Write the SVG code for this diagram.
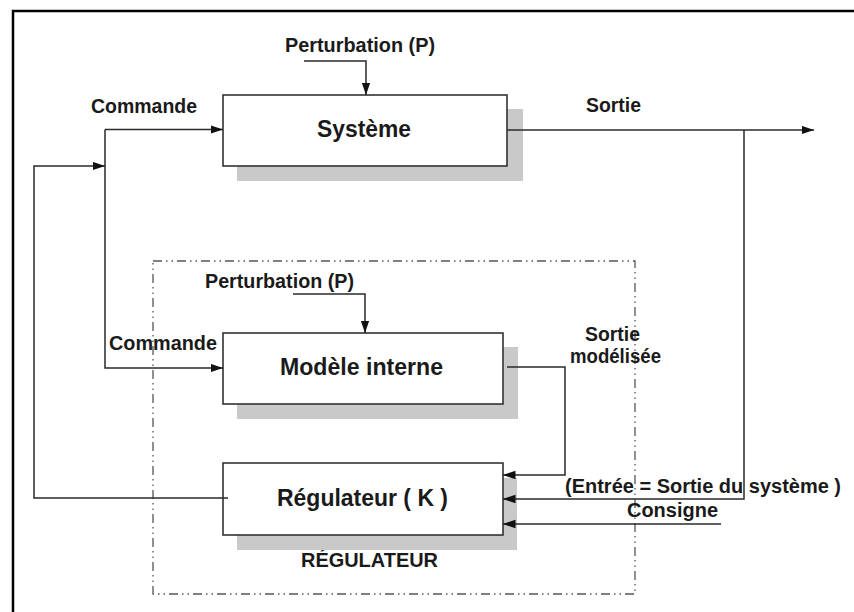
<svg xmlns="http://www.w3.org/2000/svg" width="854" height="612" viewBox="0 0 854 612">
  <style>
    .box { fill: #ffffff; stroke: #333333; stroke-width: 1.6; }
    .shadow { fill: #c9c9c9; stroke: none; }
    .wire { fill: none; stroke: #2a2a2a; stroke-width: 1.5; }
    .lbl { font-family: "Liberation Sans", Arial, sans-serif; font-weight: bold; font-size: 19.5px; fill: #1a1a1a; }
    .big { font-family: "Liberation Sans", Arial, sans-serif; font-weight: bold; font-size: 23px; fill: #1a1a1a; }
    .zone { fill: none; stroke: #555555; stroke-width: 1.3; stroke-dasharray: 9 4 1.5 4 1.5 4; }
  </style>
  <defs>
    <marker id="arrow" markerUnits="userSpaceOnUse" markerWidth="13" markerHeight="9" refX="12.5" refY="4.25" orient="auto">
      <path d="M0,0 L12.5,4.25 L0,8.5 Z" fill="#111111"/>
    </marker>
  </defs>

  <rect width="854" height="612" fill="#ffffff"/>

  <!-- page frame (top and left edges) -->
  <path d="M13,612 V11 H854" fill="none" stroke="#000000" stroke-width="2.5"/>

  <!-- controller boundary -->
  <g id="zone-regulateur">
    <rect class="zone" x="153" y="261" width="482" height="333"/>
    <text class="lbl" x="301" y="567" textLength="137" lengthAdjust="spacingAndGlyphs">RÉGULATEUR</text>
  </g>

  <!-- plant -->
  <g id="systeme">
    <rect class="shadow" x="237" y="109" width="286" height="72"/>
    <rect class="box" x="223" y="95" width="284" height="71"/>
    <text class="big" x="317" y="137" textLength="94" lengthAdjust="spacingAndGlyphs">Système</text>
  </g>

  <!-- internal model -->
  <g id="modele-interne">
    <rect class="shadow" x="237" y="347" width="281" height="72"/>
    <rect class="box" x="223" y="333" width="280" height="71"/>
    <text class="big" x="280" y="375" textLength="163" lengthAdjust="spacingAndGlyphs">Modèle interne</text>
  </g>

  <!-- controller K -->
  <g id="regulateur-k">
    <rect class="shadow" x="237" y="478" width="280" height="72"/>
    <rect class="box" x="223" y="463" width="280" height="72"/>
    <text class="big" x="277" y="506" textLength="171" lengthAdjust="spacingAndGlyphs">Régulateur ( K )</text>
  </g>

  <!-- connectors -->
  <g id="connectors">
    <!-- disturbances -->
    <path class="wire" d="M304,61 H366 V95" marker-end="url(#arrow)"/>
    <path class="wire" d="M293,294 H365 V333" marker-end="url(#arrow)"/>
    <!-- command fan-out -->
    <path class="wire" d="M105,129.5 H223" marker-end="url(#arrow)"/>
    <path class="wire" d="M105,129.5 V368 H223" marker-end="url(#arrow)"/>
    <!-- controller output back to command -->
    <path class="wire" d="M228,498 H34 V166 H105" marker-end="url(#arrow)"/>
    <!-- plant output -->
    <path class="wire" d="M507,130 H814" marker-end="url(#arrow)"/>
    <path class="wire" d="M744,130 V499 H503" marker-end="url(#arrow)"/>
    <!-- modelled output -->
    <path class="wire" d="M507,367 H565 V475 H503" marker-end="url(#arrow)"/>
    <!-- setpoint -->
    <path class="wire" d="M721,524 H503" marker-end="url(#arrow)"/>
  </g>

  <!-- signal labels -->
  <g id="labels">
    <text class="lbl" x="285" y="52" textLength="150" lengthAdjust="spacingAndGlyphs">Perturbation (P)</text>
    <text class="lbl" x="91" y="113" textLength="106" lengthAdjust="spacingAndGlyphs">Commande</text>
    <text class="lbl" x="586" y="112" textLength="55" lengthAdjust="spacingAndGlyphs">Sortie</text>
    <text class="lbl" x="205" y="288" textLength="149" lengthAdjust="spacingAndGlyphs">Perturbation (P)</text>
    <text class="lbl" x="109" y="350" textLength="108" lengthAdjust="spacingAndGlyphs">Commande</text>
    <text class="lbl" x="585" y="341" textLength="55" lengthAdjust="spacingAndGlyphs">Sortie</text>
    <text class="lbl" x="570" y="363" textLength="91" lengthAdjust="spacingAndGlyphs">modélisée</text>
    <text class="lbl" x="565" y="493" textLength="276" lengthAdjust="spacingAndGlyphs">(Entrée = Sortie du système )</text>
    <text class="lbl" x="627" y="517" textLength="91" lengthAdjust="spacingAndGlyphs">Consigne</text>
  </g>
</svg>
